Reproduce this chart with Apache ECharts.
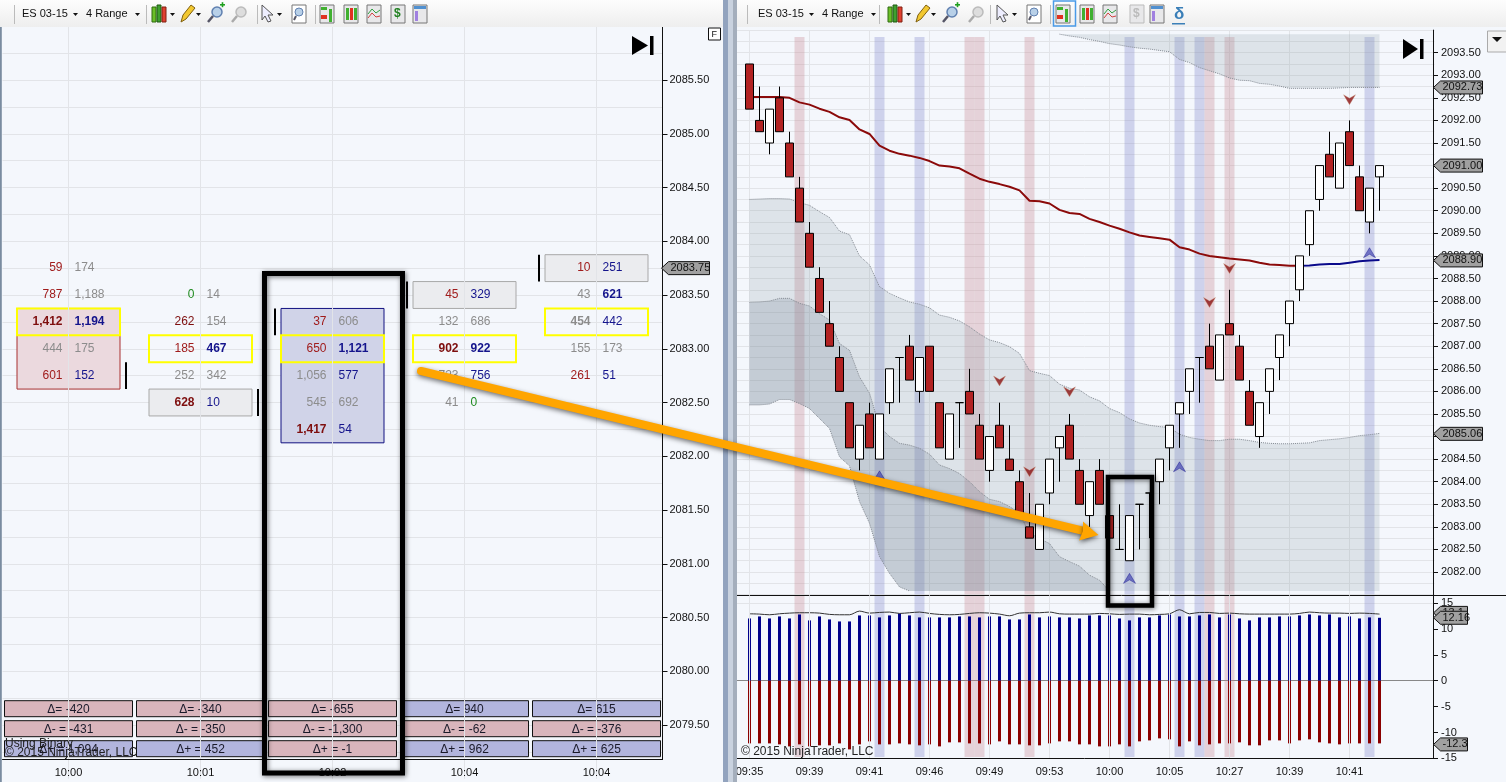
<!DOCTYPE html>
<html>
<head>
<meta charset="utf-8">
<style>html,body{margin:0;padding:0;background:#F4F7FC;overflow:hidden}#c{width:1506px;height:782px}</style>
<script src="https://cdn.jsdelivr.net/npm/echarts@6/dist/echarts.min.js"></script>
</head>
<body>
<div id="c"></div>
<script>
// ---------- DATA: footprint panel ----------
const fpColumns = ['10:00','10:01','10:02','10:04','10:04'];
const col0Prices = [2083.75,2083.5,2083.25,2083,2082.75];
const col0Bid = [59,787,1412,444,601];
const col0Ask = [174,1188,1194,175,152];
const col1Prices = [2083.5,2083.25,2083,2082.75,2082.5];
const col1Bid = [0,262,185,252,628];
const col1Ask = [14,154,467,342,10];
const col2Prices = [2083.25,2083,2082.75,2082.5,2082.25];
const col2Bid = [37,650,1056,545,1417];
const col2Ask = [606,1121,577,692,54];
const col3Prices = [2083.5,2083.25,2083,2082.75,2082.5];
const col3Bid = [45,132,902,723,41];
const col3Ask = [329,686,922,756,0];
const col4Prices = [2083.75,2083.5,2083.25,2083,2082.75];
const col4Bid = [10,43,454,155,261];
const col4Ask = [251,621,442,173,51];
const deltaTotal = [-420,-340,-655,940,615];
const deltaMinus = [-431,-350,-1300,-62,-376];
const deltaPlus = [1094,452,-1,962,625];
const leftTagPrice = [2083.75];

// ---------- DATA: price panel ----------
const tickTimes = ['09:35','09:39','09:41','09:46','09:49','09:53','10:00','10:05','10:27','10:39','10:41'];
const opens = [2093.25,2092,2091.5,2092.5,2091.5,2090.5,2089.5,2088.5,2087.5,2086.75,2085.75,2084.5,2085.5,2084.5,2085.75,2086.75,2087,2086,2087,2085.75,2084.5,2085.75,2086,2085.25,2084.25,2085.25,2084.5,2084,2083,2082.5,2083.75,2084.75,2085.25,2084.25,2083.25,2084.25,2083.25,2082.5,2082.25,2083.5,2083.75,2084,2084.75,2085.5,2086,2086.75,2087,2086.25,2087.5,2087,2086,2085,2086,2086.75,2087.5,2088.25,2089.25,2090.25,2091.25,2090.5,2091.75,2090.75,2089.75,2090.75];
const closes = [2092.25,2091.75,2092.25,2091.75,2090.75,2089.75,2088.75,2087.75,2087,2086,2084.75,2085.25,2084.75,2085.5,2086.5,2086.75,2086.25,2086.75,2086,2084.75,2085.5,2085.75,2085.5,2084.5,2085,2084.75,2084.25,2083.25,2082.75,2083.5,2084.5,2085,2084.5,2083.5,2084,2083.5,2082.75,2082.5,2083.25,2083.5,2083.75,2084.5,2085.25,2085.75,2086.5,2086.75,2086.5,2087.25,2087.25,2086.25,2085.25,2085.75,2086.5,2087.25,2088,2089,2090,2091,2090.75,2091.5,2091,2090,2090.5,2091];
const lows = [2092.25,2091.75,2091.25,2091.75,2090.75,2089.75,2088.75,2087.75,2087,2086,2084.75,2084.25,2084.75,2084.5,2085.5,2085.75,2086.25,2085.75,2086,2084.75,2084.5,2084.75,2085.5,2084.5,2084,2084.75,2084.25,2083.25,2082.75,2082.5,2083.5,2084,2084.5,2083.5,2083,2083.5,2082.75,2082.5,2082.25,2082.5,2082.75,2083.5,2084.25,2084.75,2085.5,2085.75,2086.5,2086.25,2087.25,2086.25,2085.25,2084.75,2085.5,2086.25,2087,2088,2089,2090,2090.75,2090.5,2091,2090,2089.5,2090];
const highs = [2093.25,2092.75,2092.25,2092.75,2091.75,2090.75,2089.75,2088.75,2088,2087,2085.75,2085.25,2085.75,2085.5,2086.5,2086.75,2087.25,2086.75,2087,2085.75,2085.5,2085.75,2086.5,2085.5,2085,2085.75,2085.25,2084.25,2083.75,2083.5,2084.5,2085,2085.5,2084.5,2084,2084.5,2083.75,2083.5,2083.25,2083.5,2083.75,2084.5,2085.25,2085.75,2086.5,2086.75,2087.5,2087.25,2088.25,2087.25,2086.25,2085.75,2086.5,2087.25,2088,2089,2090,2091,2091.75,2091.5,2092,2091,2090.5,2091];
const trendDown = [2092.52,2092.52,2092.52,2092.52,2092.5,2092.4,2092.35,2092.26,2092.19,2092.07,2092.01,2091.8,2091.7,2091.44,2091.33,2091.26,2091.22,2091.17,2091.1,2091,2090.98,2090.94,2090.82,2090.71,2090.64,2090.59,2090.53,2090.45,2090.22,2090.21,2090.16,2090.02,2089.95,2089.93,2089.82,2089.75,2089.67,2089.6,2089.52,2089.45,2089.42,2089.39,2089.36,2089.19,2089.14,2089.05,2089,2088.97,2088.94,2088.92,2088.9,2088.85,2088.81,2088.8,2088.78,2088.78];
const trendUp = [2088.78,2088.79,2088.81,2088.82,2088.82,2088.85,2088.88,2088.9,2088.91];
const cloudUpper = [2090.25,2090.26,2090.27,2090.27,2090.26,2090.18,2090.12,2089.98,2089.85,2089.55,2089.47,2089,2088.8,2088.32,2088.17,2088.07,2087.98,2087.93,2087.85,2087.69,2087.64,2087.56,2087.43,2087.27,2087.14,2087.08,2086.99,2086.84,2086.46,2086.4,2086.35,2086.16,2086.07,2086.03,2085.88,2085.79,2085.62,2085.53,2085.39,2085.3,2085.25,2085.22,2085.2,2085.05,2084.98,2084.94,2084.91,2084.91,2084.94,2084.94,2084.91,2084.87,2084.85,2084.84,2084.84,2084.85,2084.86,2084.91,2084.93,2084.95,2084.98,2085.02,2085.04,2085.07];
const cloudMiddle = [2087.97,2087.98,2088,2088.06,2088.06,2087.95,2087.89,2087.72,2087.58,2087.06,2086.91,2086.32,2085.96,2085.22,2085,2084.85,2084.81,2084.74,2084.61,2084.37,2084.29,2084.18,2084,2083.78,2083.61,2083.56,2083.45,2083.3,2082.86,2082.74,2082.63,2082.34,2082.23,2082.13,2081.93,2081.82,2081.58];
const cloudLower = [2085.7,2085.7,2085.72,2085.82,2085.82,2085.73,2085.62,2085.4,2085.18,2084.55,2084.35,2083.56,2083.08,2082.34,2081.97,2081.67,2081.58];
const topCloudEdge = [2093.91,2093.87,2093.84,2093.79,2093.75,2093.7,2093.67,2093.63,2093.6,2093.58,2093.55,2093.52,2093.35,2093.28,2093.17,2093.1,2093.03,2092.94,2092.89,2092.88,2092.82,2092.8,2092.76,2092.71,2092.71,2092.71,2092.71,2092.71,2092.72,2092.73,2092.73,2092.73,2092.73];
const topCloudStart = 31;
const cloudFloor = 2081.58;
const cloudCeil = 2093.91;
const blueStripes = [13,17,38,43,45,62];
const pinkStripes = [5,22,23,28,46,48];
const sellBars = [25,28,32,46,48,60];
const sellPrices = [2086.23,2084.22,2085.99,2087.97,2088.72,2092.46];
const buyBars = [13,38,43,62];
const buyPrices = [2084.13,2081.86,2084.33,2089.07];
const priceTags = [2092.73,2091,2088.9,2085.06];

// ---------- DATA: indicator panel ----------
const upVolume = [12.03,12.42,12.03,12.42,12.03,12.8,11.65,12.42,11.84,11.45,11.45,12.61,12.61,12.23,12.61,13,12.61,12.23,12.23,12.23,12.23,12.42,12.42,12.23,12.42,12.42,11.84,11.84,12.8,12.23,12.42,12.23,12.23,12.03,12.61,12.61,12.61,12.03,11.65,12.23,12.23,12.61,12.8,12.42,12.42,12.61,12.8,12.23,12.8,12.03,11.65,12.23,12.23,12.42,12.42,12.61,12.8,12.61,12.8,12.23,12.42,12.03,12.23,12.16];
const downVolume = [-12.1,-12.1,-12.1,-12.29,-12.68,-12.29,-12.68,-12.48,-12.48,-12.1,-13.26,-12.29,-11.71,-12.29,-12.29,-12.1,-12.29,-12.48,-12.29,-12.68,-11.9,-11.9,-12.1,-12.1,-12.29,-11.71,-12.29,-12.29,-12.48,-12.48,-12.1,-11.71,-11.71,-12.29,-12.29,-12.68,-12.68,-12.29,-12.68,-11.71,-11.52,-11.13,-11.32,-12.68,-11.71,-12.48,-12.29,-12.1,-12.1,-11.9,-12.48,-12.48,-11.52,-11.52,-12.1,-11.52,-11.32,-11.9,-12.1,-12.29,-12.1,-12.1,-12.1,-12.1];
const envelope = [12.93,12.87,12.74,12.93,13.06,13.13,13.13,13.06,12.81,12.74,12.74,13.45,13.06,13.19,13.26,13,13.13,13.26,13,12.81,12.74,12.81,13,13.13,13.06,12.87,12.55,13.06,13.13,13.13,13.26,12.93,12.87,12.87,12.87,13,12.93,12.81,12.87,12.87,12.74,12.81,12.93,13.71,12.93,13.19,13.19,13,13.06,12.93,12.87,12.87,12.87,12.87,12.87,13,13.26,13.13,13.06,13.06,13,13.06,13,12.87];
const indicatorTags = [['13.1',13.1],['12.16',12.16],['-12.3',-12.3]];

// ---------- STYLE ----------
const FONT = '"Liberation Sans", Arial, sans-serif';
const BG = '#F4F7FC', GRID = '#E2E4E8';
const RED='#A01C1C', DRED='#7E0E0E', GRY='#8C8C8C', NAVY='#14148C', GRN='#1E8A1E';
const bidStyles = [
 [[RED,0],[RED,0],[DRED,1],[GRY,0],[RED,0]],
 [[GRN,0],[DRED,0],[RED,0],[GRY,0],[DRED,1]],
 [[RED,0],[RED,0],[GRY,0],[GRY,0],[DRED,1]],
 [[RED,0],[GRY,0],[DRED,1],[GRY,0],[GRY,0]],
 [[RED,0],[GRY,0],[GRY,1],[GRY,0],[RED,0]]];
const askStyles = [
 [[GRY,0],[GRY,0],[NAVY,1],[GRY,0],[NAVY,0]],
 [[GRY,0],[GRY,0],[NAVY,1],[GRY,0],[NAVY,0]],
 [[GRY,0],[NAVY,1],[NAVY,0],[GRY,0],[NAVY,0]],
 [[NAVY,0],[GRY,0],[NAVY,1],[NAVY,0],[GRN,0]],
 [[NAVY,0],[NAVY,1],[NAVY,0],[GRY,0],[NAVY,0]]];
const fmt = n => Number(n).toLocaleString('en-US');
const columns = [
 [col0Prices,col0Bid,col0Ask],[col1Prices,col1Bid,col1Ask],[col2Prices,col2Bid,col2Ask],
 [col3Prices,col3Bid,col3Ask],[col4Prices,col4Bid,col4Ask]];
const cells = [];
columns.forEach((c,ci)=>c[0].forEach((p,ri)=>cells.push([ci,p,c[1][ri],c[2][ri],ri])));

const boxes = [[0,2083.25,2082.75,'pink'],[2,2083.25,2082.25,'blue'],[1,2082.5,2082.5,'gray'],[3,2083.5,2083.5,'gray'],[4,2083.75,2083.75,'gray']];
const boxFill = {pink:['#EBD9DE','#A83030'],blue:['#D0D3E8','#101080'],gray:['#EBECEF','#A8A8A8']};
const pocRows = [[0,2083.25],[1,2083],[2,2083],[3,2083],[4,2083.25]];
const sideMarks = [[0,2082.75,1],[1,2082.5,1],[2,2083.25,-1],[3,2083.5,-1],[4,2083.75,-1]];

// ---------- AXES HELPERS ----------
const SLOTS = 70;
const slotCats = [];
for (let i=0;i<SLOTS;i++){ const b=i-1; slotCats.push(b>=0 && b%6===0 && b/6<tickTimes.length ? tickTimes[b/6] : ''); }
const isTick = (i,v)=>v!=='';
const withIdx = (arr,start)=>arr.map((v,i)=>[start+i+1,v]);
const axisText = {color:'#111',fontSize:11,fontFamily:FONT};

function tagRender(w, textOf){ return function(params,api){
  const y = api.coord([0,api.value(1)])[1];
  const x0 = params.coordSys.x+params.coordSys.width-1;
  return {type:'group',children:[
    {type:'polygon',shape:{points:[[x0,y],[x0+7,y-6.5],[x0+w,y-6.5],[x0+w,y+6.5],[x0+7,y+6.5]]},style:{fill:'#A0A0A0',stroke:'#111',lineWidth:1}},
    {type:'text',style:{text:textOf(params.dataIndex),x:x0+9,y:y,verticalAlign:'middle',align:'left',font:'11px '+FONT,fill:'#111'}}
  ]};
};}
function stripeSeries(list,color,xi,yi,topInset){
  return {type:'custom',xAxisIndex:xi,yAxisIndex:yi,z:2,silent:true,clip:false,
    data:list.map(b=>[b+1,0]),
    renderItem(params,api){
      const cs=params.coordSys, x=api.coord([api.value(0),0])[0], w=api.size([1,0])[0];
      return {type:'rect',shape:{x:x-w/2,y:cs.y+topInset,width:w,height:cs.height-topInset-(yi===2?1.5:0)},style:{fill:color}};
    }};
}
function polygonSeries(upper,uStart,lower,lStart,endBar,floorOrCeil,fill){
  return {type:'custom',xAxisIndex:1,yAxisIndex:1,z:3,silent:true,clip:false,data:[[0,0]],
    renderItem(params,api){
      const pts=[];
      for(let i=uStart;i<=endBar;i++){ const v=upper[i-uStart]; pts.push(api.coord([i+1,v===undefined?floorOrCeil:v])); }
      for(let i=endBar;i>=lStart;i--){ const v=lower?lower[i-lStart]:undefined; pts.push(api.coord([i+1,v===undefined?floorOrCeil:v])); }
      return {type:'polygon',shape:{points:pts},style:{fill:fill}};
    }};
}
const dotted = (arr,start)=>({type:'line',xAxisIndex:1,yAxisIndex:1,z:4,silent:true,symbol:'none',
  data:withIdx(arr,start),lineStyle:{type:'dotted',color:'#858B93',width:1}});

// ---------- TOOLBAR GRAPHICS ----------
function txt(x,y,s,font,fill,z){return {type:'text',z:z||40,x:x,y:y,style:{text:s,font:font||('11px '+FONT),fill:fill||'#111',verticalAlign:'middle'}};}
function rect(x,y,w,h,fill,stroke,z,lw){return {type:'rect',z:z||40,shape:{x,y,width:w,height:h},style:{fill:fill||'none',stroke:stroke||'none',lineWidth:lw||1}};}
function tri(x,y){return {type:'polygon',z:41,shape:{points:[[x,y],[x+5,y],[x+2.5,y+3]]},style:{fill:'#111'}};}
function candleIcon(x){return [rect(x,7,4,15,'#6BBF28','#2E6B10',41),rect(x+5,5,4,17,'#3FA030','#1E5B10',41),rect(x+10,7,4,15,'#E04030','#802010',41)];}
function pencil(x){return [{type:'polygon',z:41,shape:{points:[[x,22],[x+2,15],[x+10,5],[x+14,8],[x+5,19]]},style:{fill:'#F2C830',stroke:'#806010',lineWidth:1}}];}
function lens(x,plus,faded){const c=faded?'#BBB':'#6080B0';const a=[{type:'circle',z:41,shape:{cx:x+9,cy:12,r:5},style:{fill:faded?'#DDD':'#B8D0E8',stroke:c,lineWidth:1.5}},{type:'line',z:41,shape:{x1:x+5,y1:16,x2:x,y2:22},style:{stroke:faded?'#AAA':'#556',lineWidth:2.5}}];
 if(plus){a.push(rect(x+12,4,5,1.6,'#20A020',null,42),rect(x+13.7,2.2,1.6,5,'#20A020',null,42));}
 return a;}
function cursor(x){return [{type:'polygon',z:41,shape:{points:[[x,5],[x+11,15],[x+6,15],[x+9,21],[x+6,22],[x+3,16],[x,20]]},style:{fill:'#EEF',stroke:'#555',lineWidth:1}}];}
function pageIcon(x,kind,faded){const a=[rect(x,5,14,18,kind==='zoom'?'#FFF':'#E8E8EA',faded?'#BBB':'#777',41)];
 if(kind==='zoom'){a.push({type:'circle',z:42,shape:{cx:x+7,cy:12,r:4},style:{fill:'#B8D0E8',stroke:'#6080B0'}},{type:'line',z:42,shape:{x1:x+4,y1:16,x2:x+2,y2:20},style:{stroke:'#556',lineWidth:2}});}
 if(kind==='fp'){a.push(rect(x+1,7,6,3,'#40B030',null,42),rect(x+1,15,6,4,'#E03020',null,42),rect(x+9,9,3,13,'#40B030',null,42));}
 if(kind==='cd'){a.push(rect(x+2,8,3,12,'#40B030',null,42),rect(x+6,8,3,12,'#E03020',null,42),rect(x+10,8,3,12,'#40B030',null,42));}
 if(kind==='ln'){a.push({type:'polyline',z:42,shape:{points:[[x+1,14],[x+5,9],[x+9,13],[x+13,10]]},style:{stroke:'#30A040',fill:'none'}},{type:'polyline',z:42,shape:{points:[[x+1,18],[x+5,13],[x+9,17],[x+13,16]]},style:{stroke:'#D04040',fill:'none'}});}
 if(kind==='usd'){a.push({type:'text',z:42,x:x+3,y:14,style:{text:'$',font:'bold 12px '+FONT,fill:faded?'#BBB':'#208020',verticalAlign:'middle'}});}
 if(kind==='tb'){a.push(rect(x+1,6,12,3,'#5090D0',null,42),rect(x+2,11,3,10,'#A080E0',null,42));}
 return a;}
function toolbar(x0,w,p){
  const g=[{type:'rect',z:40,shape:{x:x0,y:0,width:w,height:27},style:{fill:new echarts.graphic.LinearGradient(0,0,0,1,[{offset:0,color:'#FDFDFD'},{offset:1,color:'#EEEEEE'}])}}];
  g.push(rect(x0+p.sep[0],5,1,19,'#BBB',null,41));
  g.push(txt(x0+p.es,14,'ES 03-15'),tri(x0+p.es+51,13),txt(x0+p.es+64,14,'4 Range'),tri(x0+p.es+113,13));
  p.sep.slice(1).forEach(s=>g.push(rect(x0+s,5,1,19,'#BBB',null,41)));
  g.push(...candleIcon(x0+p.ic[0]),tri(x0+p.ic[0]+18,13),...pencil(x0+p.ic[1]),tri(x0+p.ic[1]+15,13),...lens(x0+p.ic[2],true),...lens(x0+p.ic[3],false,true),...cursor(x0+p.ic[4]),tri(x0+p.ic[4]+15,13),...pageIcon(x0+p.ic[5],'zoom'));
  p.pg.forEach(q=>g.push(...pageIcon(x0+q[0],q[1],q[2])));
  return g;
}
function skipEnd(x,yTop,h,triW){return [
  {type:'polygon',z:30,shape:{points:[[x,yTop],[x+triW,yTop+h/2],[x,yTop+h]]},style:{fill:'#000'}},
  rect(x+triW+2,yTop,3.5,h,'#000',null,30)];}

const graphicEls = [
  rect(0,760,722,22,BG,null,1),
  rect(0,0,1.8,782,'#7A8CA0',null,35),
  ...skipEnd(632,36,19,16),
  ...skipEnd(1403,39,20,15),
  rect(708.5,28,12,12,'#FFF','#111',30),
  txt(711.5,34.5,'F','9px '+FONT,'#111',31),
  {type:'line',z:6,shape:{x1:737,y1:595.5,x2:1506,y2:595.5},style:{stroke:'#111',lineWidth:1}},
  rect(1487.5,31,22,21,'#F2F2F2','#AAA',30),
  {type:'polygon',z:31,shape:{points:[[1492,37],[1502,37],[1497,42]]},style:{fill:'#111'}},
  txt(741,752,'© 2015 NinjaTrader, LLC','12px '+FONT,'#222',20),
  txt(5,744,'Using Binary','12px '+FONT,'#222',20),
  txt(5,752.5,'© 2015 NinjaTrader, LLC','12px '+FONT,'#222',20),
  rect(723,0,5,782,'#92A3BE',null,50),
  rect(728,0,5,782,'#C9D2DF',null,50),
  rect(733,0,4,782,'#A4AEBC',null,50),
  ...toolbar(0,723,{es:22,sep:[14,146,257,315],ic:[152,181,208,232,262,292],pg:[[320,'fp'],[344,'cd'],[367,'ln'],[391,'usd'],[413,'tb']]}),
  ...toolbar(737,769,{es:21,sep:[10,142,253,313],ic:[151,179,206,232,260,290],pg:[[319,'fp'],[343,'cd'],[366,'ln'],[393,'usd',true],[413,'tb']]}),
  rect(1053.5,1,22,25,'none','#4A9AE8',42,1.5),
  txt(1174,14,'δ','bold 17px '+FONT,'#3A7FB8',42),
  rect(1172,23,13,1.5,'#3A7FB8',null,42),
  {type:'rect',z:60,shape:{x:264.5,y:273.5,width:138,height:499.5},style:{fill:'none',stroke:'#000',lineWidth:5,shadowBlur:5,shadowColor:'rgba(0,0,0,.55)',shadowOffsetX:1,shadowOffsetY:1}},
  {type:'rect',z:60,shape:{x:1108,y:477,width:44,height:128.5},style:{fill:'none',stroke:'#000',lineWidth:4.5,shadowBlur:5,shadowColor:'rgba(0,0,0,.55)',shadowOffsetX:1,shadowOffsetY:1}},
  {type:'polyline',z:70,shape:{points:[[421,371],[1086,531.5]]},style:{fill:'none',stroke:'#FFA500',lineWidth:8,lineCap:'round',shadowBlur:5,shadowColor:'rgba(0,0,0,.55)',shadowOffsetY:2}},
  {type:'polygon',z:71,shape:{points:[[1083,521.5],[1098.5,535],[1079,540.5],[1083,531]]},style:{fill:'#FFA500',shadowBlur:5,shadowColor:'rgba(0,0,0,.55)',shadowOffsetY:2}}
];

// ---------- OPTION ----------
const option = {
  animation:false,
  backgroundColor:BG,
  textStyle:{fontFamily:FONT},
  grid:[
    {left:2.5,top:26.25,width:660,height:752.5,containLabel:false},
    {left:734.5,top:30.1,width:700,height:564.5},
    {left:734.5,top:595.3,width:700,height:163.1}
  ],
  xAxis:[
    {gridIndex:0,type:'category',data:fpColumns,z:10,offset:-19.75,axisLine:{onZero:false,lineStyle:{color:'#111'}},
      axisTick:{alignWithLabel:true,length:5,lineStyle:{color:'#111'}},axisLabel:Object.assign({margin:8},axisText),
      splitLine:{show:true,alignWithLabel:true,lineStyle:{color:GRID}}},
    {gridIndex:1,type:'category',data:slotCats,axisLine:{show:false,onZero:false},axisTick:{show:false},axisLabel:{show:false},
      splitLine:{show:true,alignWithLabel:true,interval:isTick,lineStyle:{color:GRID}}},
    {gridIndex:2,type:'category',data:slotCats,z:10,axisLine:{onZero:false,lineStyle:{color:'#111'}},
      axisTick:{alignWithLabel:true,interval:isTick,length:5,lineStyle:{color:'#111'}},
      axisLabel:Object.assign({interval:isTick,margin:8},axisText),
      splitLine:{show:true,alignWithLabel:true,interval:isTick,lineStyle:{color:GRID}}}
  ],
  yAxis:[
    {gridIndex:0,type:'value',position:'right',min:2079,max:2086,interval:0.5,
      axisLine:{show:true,lineStyle:{color:'#111'}},axisTick:{show:true,length:5,lineStyle:{color:'#111'}},
      axisLabel:Object.assign({margin:7,showMinLabel:false,showMaxLabel:false,formatter:v=>v.toFixed(2)},axisText),
      splitLine:{show:true,lineStyle:{color:GRID}},minorTick:{show:false,splitNumber:2},minorSplitLine:{show:true,lineStyle:{color:GRID}}},
    {gridIndex:1,type:'value',position:'right',offset:-1.5,min:2081.5,max:2094,interval:0.5,
      axisLine:{show:true,lineStyle:{color:'#111'}},axisTick:{show:true,length:5,lineStyle:{color:'#111'}},
      axisLabel:Object.assign({margin:8,showMinLabel:false,showMaxLabel:false,formatter:v=>v.toFixed(2)},axisText),
      splitLine:{show:true,lineStyle:{color:GRID}},minorTick:{show:false,splitNumber:2},minorSplitLine:{show:true,lineStyle:{color:GRID}}},
    {gridIndex:2,type:'value',position:'right',offset:-1.5,min:-15,max:16.5,interval:5,
      axisLine:{show:true,lineStyle:{color:'#111'}},axisTick:{show:true,length:5,lineStyle:{color:'#111'}},
      axisLabel:Object.assign({margin:8,showMaxLabel:false},axisText),
      splitLine:{show:true,lineStyle:{color:[GRID,'transparent','transparent','#888888','transparent','transparent',GRID,'transparent']}}}
  ],
  graphic:{elements:graphicEls},
  series:[
    {type:'custom',xAxisIndex:0,yAxisIndex:0,z:3,silent:true,data:boxes.map(b=>[b[0],b[1],b[2]]),
      renderItem(params,api){
        const b=boxes[params.dataIndex],c=api.coord([b[0],b[1]]),d=api.coord([b[0],b[2]]),h=api.size([0,0.25])[1];
        const st=boxFill[b[3]];
        return {type:'rect',shape:{x:c[0]-51.5,y:c[1]-h/2,width:103,height:d[1]-c[1]+h},style:{fill:st[0],stroke:st[1],lineWidth:1}};
      }},
    {type:'custom',xAxisIndex:0,yAxisIndex:0,z:4,silent:true,data:columns.map((c,i)=>[i,c[0][0],c[0][c[0].length-1]]),
      renderItem(params,api){
        const a=api.coord([api.value(0),api.value(1)]),b=api.coord([api.value(0),api.value(2)]),h=api.size([0,0.25])[1];
        return {type:'line',shape:{x1:a[0],y1:a[1]-h/2,x2:b[0],y2:b[1]+h/2},style:{stroke:params.dataIndex===0?'#B06060':'#A4A4AC',lineWidth:1}};
      }},
    {type:'custom',xAxisIndex:0,yAxisIndex:0,z:5,silent:true,data:pocRows,
      renderItem(params,api){
        const c=api.coord([api.value(0),api.value(1)]),h=api.size([0,0.25])[1];
        return {type:'rect',shape:{x:c[0]-51.5,y:c[1]-h/2,width:103,height:h},style:{fill:'none',stroke:'#FFFF00',lineWidth:2}};
      }},
    {type:'custom',xAxisIndex:0,yAxisIndex:0,z:5,silent:true,data:sideMarks,
      renderItem(params,api){
        const c=api.coord([api.value(0),api.value(1)]),h=api.size([0,0.25])[1],s=sideMarks[params.dataIndex][2];
        return {type:'line',shape:{x1:c[0]+s*57.5,y1:c[1]-h/2,x2:c[0]+s*57.5,y2:c[1]+h/2},style:{stroke:'#000',lineWidth:2}};
      }},
    {type:'custom',xAxisIndex:0,yAxisIndex:0,z:6,silent:true,data:cells,
      renderItem(params,api){
        const cell=cells[params.dataIndex],c=api.coord([cell[0],cell[1]]);
        const bs=bidStyles[cell[0]][cell[4]],as=askStyles[cell[0]][cell[4]];
        return {type:'group',children:[
          {type:'text',style:{text:fmt(cell[2]),x:c[0]-6,y:c[1],align:'right',verticalAlign:'middle',font:(bs[1]?'bold ':'')+'12px '+FONT,fill:bs[0]}},
          {type:'text',style:{text:fmt(cell[3]),x:c[0]+6,y:c[1],align:'left',verticalAlign:'middle',font:(as[1]?'bold ':'')+'12px '+FONT,fill:as[0]}}
        ]};
      }},
    {type:'custom',xAxisIndex:0,yAxisIndex:0,z:7,silent:true,clip:false,data:fpColumns.map((c,i)=>[i,2079.5]),
      renderItem(params,api){
        const i=params.dataIndex,x=api.coord([i,2079.5])[0];
        const rows=[['Δ= ',deltaTotal[i],700.7],['Δ- = ',deltaMinus[i],720.7],['Δ+ = ',deltaPlus[i],740.7]];
        const kids=[];
        rows.forEach(r=>{
          kids.push({type:'rect',shape:{x:x-64,y:r[2],width:128,height:16},style:{fill:r[1]<0?'#D9B5BC':'#B2B5DD',stroke:'#111',lineWidth:1}});
          kids.push({type:'text',style:{text:r[0]+fmt(r[1]),x:x,y:r[2]+8.5,align:'center',verticalAlign:'middle',font:'12px '+FONT,fill:'#1A1A2A'}});
        });
        return {type:'group',children:kids};
      }},
    {type:'custom',xAxisIndex:0,yAxisIndex:0,z:8,silent:true,clip:false,data:leftTagPrice.map(p=>[0,p]),
      renderItem:tagRender(48,i=>leftTagPrice[i].toFixed(2))},

    stripeSeries(blueStripes,'rgba(120,125,200,.3)',1,1,7),
    stripeSeries(pinkStripes,'rgba(195,125,135,.3)',1,1,7),
    stripeSeries(blueStripes,'rgba(120,125,200,.3)',2,2,0),
    stripeSeries(pinkStripes,'rgba(195,125,135,.3)',2,2,0),
    polygonSeries(cloudUpper,0,cloudLower,0,63,cloudFloor,'rgba(130,150,160,.2)'),
    polygonSeries(cloudMiddle,0,cloudLower,0,36,cloudFloor,'rgba(110,125,140,.22)'),
    polygonSeries(topCloudEdge,topCloudStart,null,topCloudStart,63,cloudCeil,'rgba(130,150,160,.2)'),
    dotted(cloudUpper,0),dotted(cloudMiddle,0),dotted(cloudLower,0),dotted(topCloudEdge,topCloudStart),
    {type:'line',xAxisIndex:1,yAxisIndex:1,z:5,silent:true,symbol:'none',data:withIdx(trendDown,0),lineStyle:{color:'#8B0A0A',width:2}},
    {type:'line',xAxisIndex:1,yAxisIndex:1,z:5,silent:true,symbol:'none',data:withIdx(trendUp,55),lineStyle:{color:'#0A0A8B',width:2}},
    {type:'candlestick',xAxisIndex:1,yAxisIndex:1,z:6,silent:true,barWidth:8,
      encode:{x:0,y:[1,2,3,4]},
      data:opens.map((o,i)=>[i+1,o,closes[i],lows[i],highs[i]]),
      itemStyle:{color:'#FFFFFF',color0:'#B22222',borderColor:'#000',borderColor0:'#000',borderColorDoji:'#000',borderWidth:1}},
    {type:'scatter',xAxisIndex:1,yAxisIndex:1,z:7,silent:true,symbol:'path://M0,0 L10,7 L20,0 L10,20 Z',symbolSize:[12,10],
      data:sellBars.map((b,i)=>[b+1,sellPrices[i]]),itemStyle:{color:'#8B1010',borderColor:'rgba(200,150,120,.8)',borderWidth:.5}},
    {type:'scatter',xAxisIndex:1,yAxisIndex:1,z:7,silent:true,symbol:'path://M10,0 L20,20 L10,13 L0,20 Z',symbolSize:[12,10],
      data:buyBars.map((b,i)=>[b+1,buyPrices[i]]),itemStyle:{color:'rgba(50,50,170,.75)',borderColor:'#10108A',borderWidth:.5}},
    {type:'custom',xAxisIndex:1,yAxisIndex:1,z:8,silent:true,clip:false,data:priceTags.map(p=>[0,p]),
      renderItem:tagRender(49,i=>priceTags[i].toFixed(2))},

    {type:'bar',xAxisIndex:2,yAxisIndex:2,z:4,silent:true,barWidth:3,barGap:'-100%',data:withIdx(upVolume,0),itemStyle:{color:'#00008B'}},
    {type:'bar',xAxisIndex:2,yAxisIndex:2,z:4,silent:true,barWidth:3,barGap:'-100%',data:withIdx(downVolume,0),itemStyle:{color:'#8B0000'}},
    {type:'line',xAxisIndex:2,yAxisIndex:2,z:5,silent:true,symbol:'none',smooth:0.3,data:withIdx(envelope,0),lineStyle:{color:'#333',width:1}},
    {type:'custom',xAxisIndex:2,yAxisIndex:2,z:8,silent:true,clip:false,data:indicatorTags.map(t=>[0,t[1]]),
      renderItem:tagRender(34,i=>indicatorTags[i][0])}
  ]
};

const chart = echarts.init(document.getElementById('c'),null,{renderer:'canvas',width:1506,height:782});
chart.setOption(option);
</script>
</body>
</html>
